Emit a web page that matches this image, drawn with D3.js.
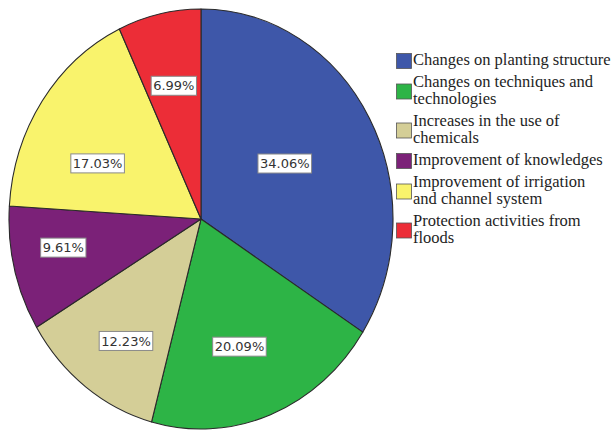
<!DOCTYPE html>
<html>
<head>
<meta charset="utf-8">
<script src="https://cdn.jsdelivr.net/npm/d3@7"></script>
<style>
  html, body { margin: 0; padding: 0; background: #ffffff; }
  svg { display: block; }
</style>
</head>
<body>
<svg id="chart" width="615" height="430"></svg>
<script>
// Measures of adaptation and their share of responses (%)
const categories = [
  "Changes on planting structure",
  "Changes on techniques and technologies",
  "Increases in the use of chemicals",
  "Improvement of knowledges",
  "Improvement of irrigation and channel system",
  "Protection activities from floods"
];
const shares = [34.06, 20.09, 12.23, 9.61, 17.03, 6.99];
const sliceLabels = ["34.06%", "20.09%", "12.23%", "9.61%", "17.03%", "6.99%"];

// Legend text, broken into lines as displayed
const legendLines = [
  ["Changes on planting structure"],
  ["Changes on techniques and", "technologies"],
  ["Increases in the use of", "chemicals"],
  ["Improvement of knowledges"],
  ["Improvement of irrigation", "and channel system"],
  ["Protection activities from", "floods"]
];

const colors = ["#3e57a9", "#2db446", "#d4ce97", "#7b2178", "#f9f36c", "#ec2d37"];

// Label layout: fraction of radius and small angular nudge (degrees)
const labelRadius = [0.51, 0.64, 0.70, 0.73, 0.60, 0.65];
const labelNudge = [-2.5, 3, -3, 3, -8, 0];

const svg = d3.select("#chart");
const cx = 201, cy = 219, rx = 192, ry = 210;
const ky = ry / rx;

const color = d3.scaleOrdinal().domain(categories).range(colors);

const pie = d3.pie().sort(null).value(d => d.value);
const arcs = pie(categories.map((c, i) => ({ name: c, value: shares[i], label: sliceLabels[i], i })));
const arc = d3.arc().innerRadius(0).outerRadius(rx);

const pieG = svg.append("g").attr("transform", `translate(${cx},${cy}) scale(1,${ky})`);
pieG.selectAll("path")
  .data(arcs)
  .join("path")
  .attr("d", arc)
  .attr("fill", d => color(d.data.name))
  .attr("stroke", "#2a2a2a")
  .attr("stroke-width", 1.1)
  .attr("vector-effect", "non-scaling-stroke")
  .attr("stroke-linejoin", "round");

// Value labels in white boxes
const labG = svg.append("g");
arcs.forEach((d, i) => {
  const a = (d.startAngle + d.endAngle) / 2 + labelNudge[i] * Math.PI / 180;
  const r = rx * labelRadius[i];
  const x = cx + r * Math.sin(a);
  const y = cy - r * Math.cos(a) * ky;
  const g = labG.append("g").attr("transform", `translate(${x},${y})`);
  const t = g.append("text")
    .attr("text-anchor", "middle")
    .attr("dy", "0.36em")
    .style("font-family", "DejaVu Sans")
    .style("font-size", "13px")
    .attr("fill", "#333333")
    .text(d.data.label);
  const bb = t.node().getBBox();
  g.insert("rect", "text")
    .attr("x", bb.x - 2)
    .attr("y", -9.5)
    .attr("width", bb.width + 4)
    .attr("height", 19)
    .attr("fill", "#ffffff")
    .attr("stroke", "#8a8a8a")
    .attr("stroke-width", 1);
});

// Legend: one text element per line
const legend = svg.append("g").attr("transform", "translate(396,0)");
const lineH = 17, itemGap = 5;
let base = 65;
legendLines.forEach((lines, i) => {
  const first = base;
  const last = base + (lines.length - 1) * lineH;
  const mid = (first - 11 + last + 3) / 2;
  legend.append("rect")
    .attr("x", 0.5)
    .attr("y", mid - 7.5)
    .attr("width", 15)
    .attr("height", 15)
    .attr("fill", color(categories[i]))
    .attr("stroke", "#555555")
    .attr("stroke-width", 0.8);
  lines.forEach((ln, j) => {
    legend.append("text")
      .attr("x", 17)
      .attr("y", base + j * lineH)
      .style("font-family", "Liberation Serif")
      .style("font-size", "16.5px")
      .attr("fill", "#1e1e1e")
      .text(ln);
  });
  base = last + lineH + itemGap;
});
</script>
</body>
</html>
